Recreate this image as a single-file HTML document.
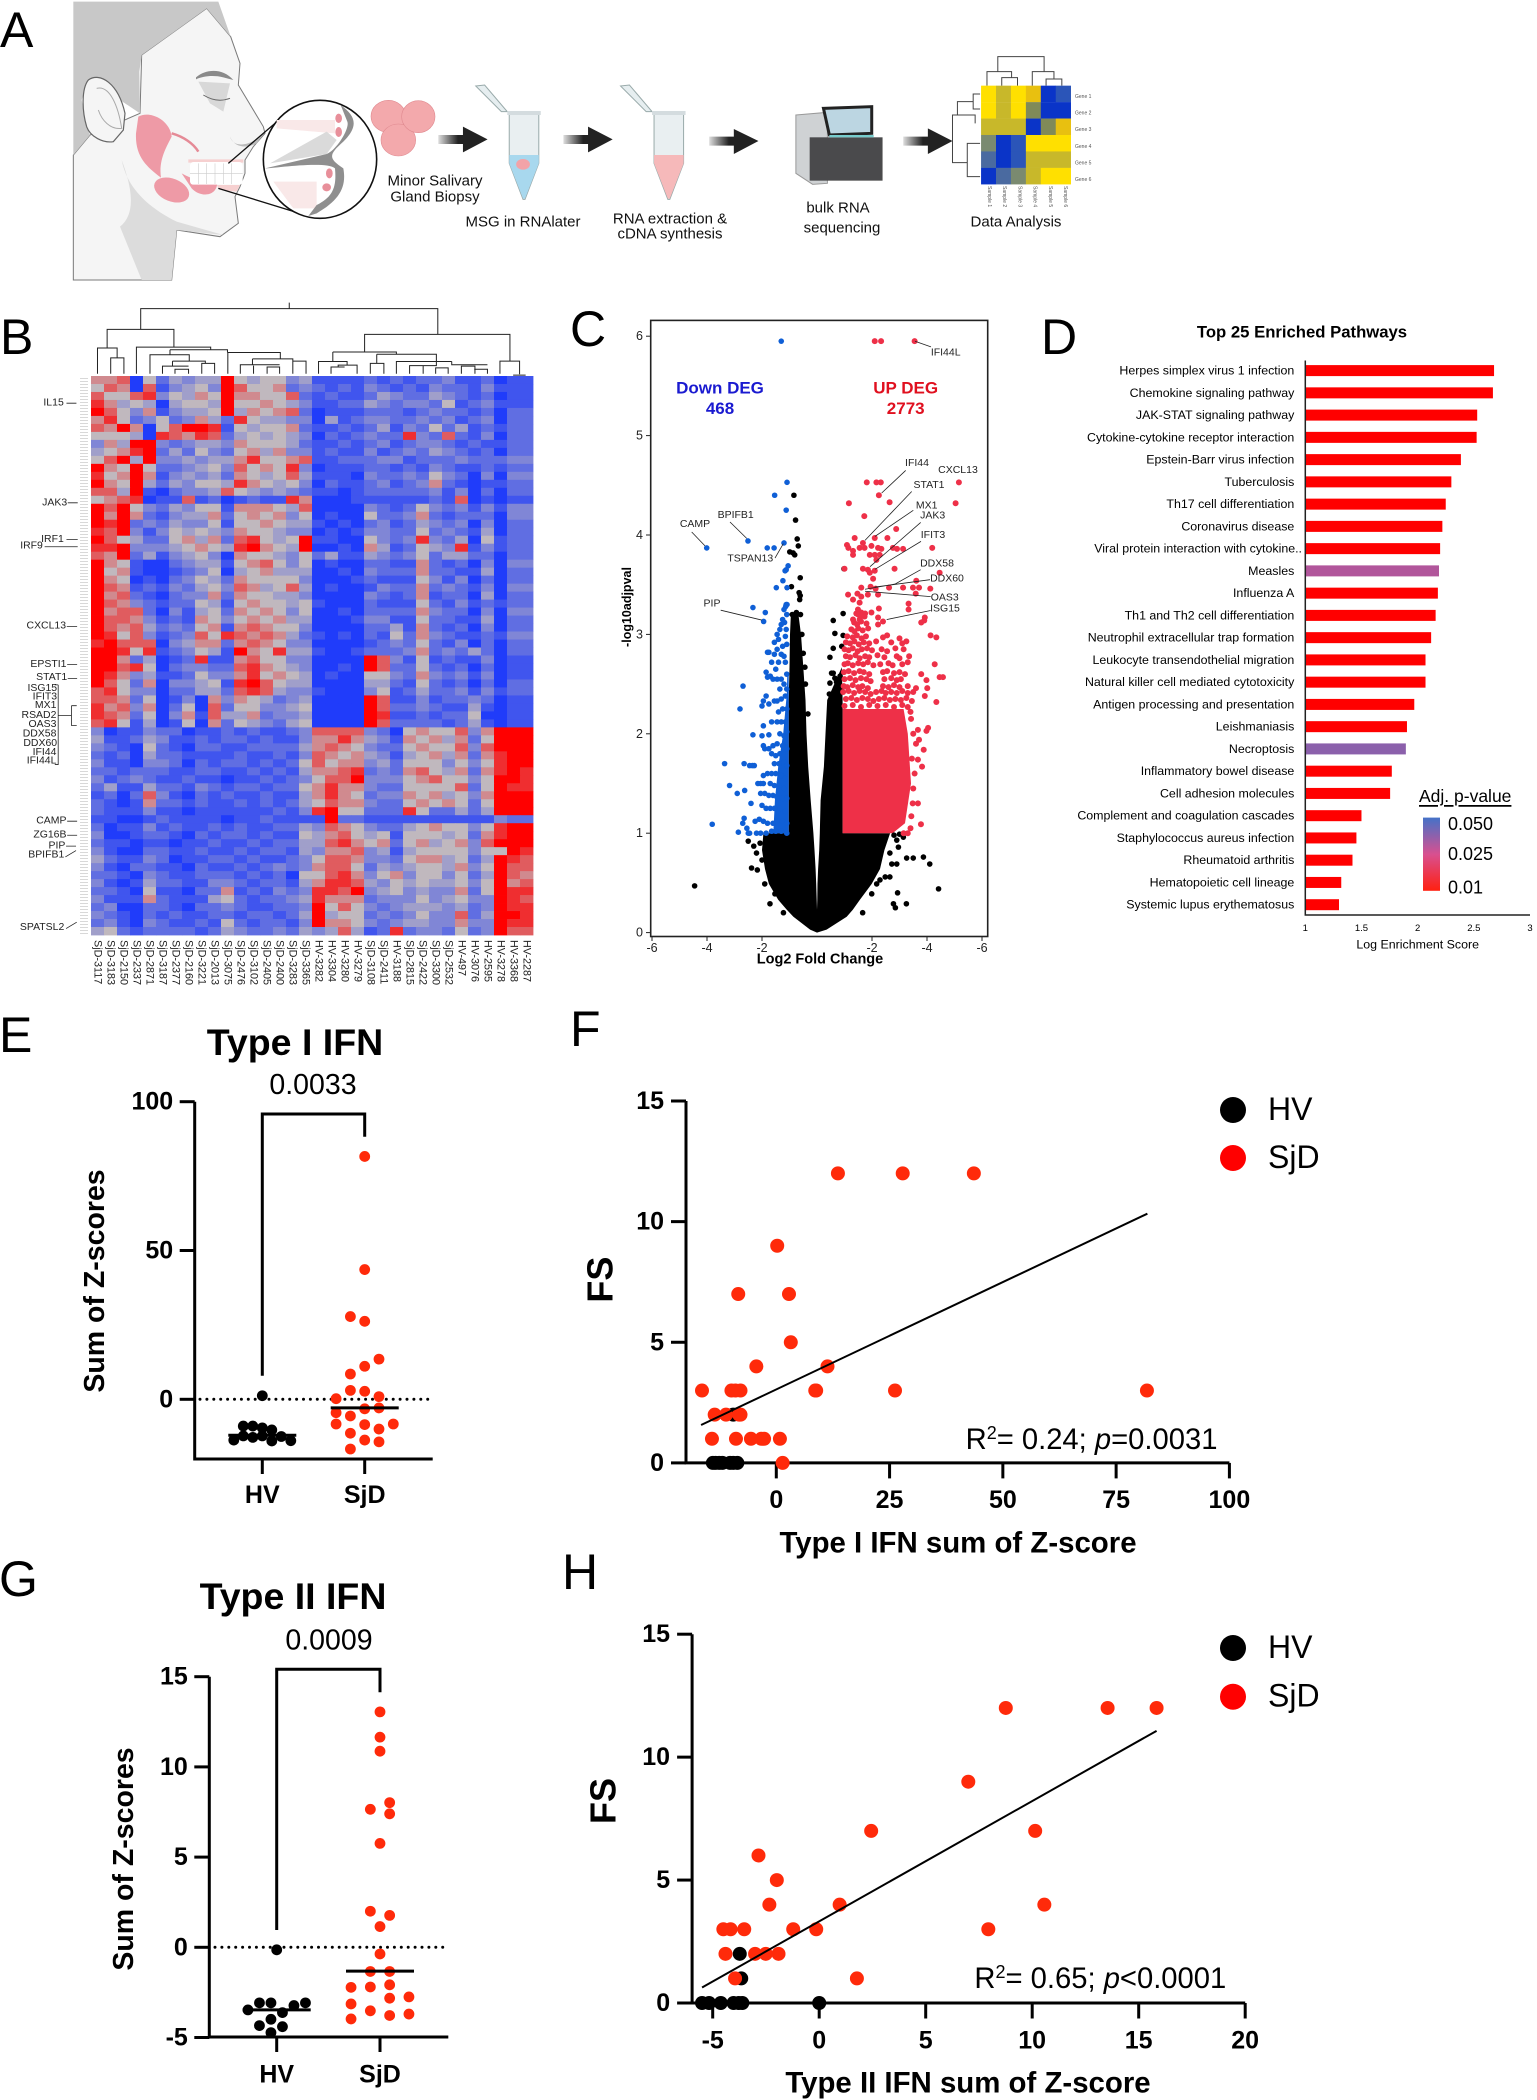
<!DOCTYPE html>
<html lang="en">
<head>
<meta charset="utf-8">
<title>Salivary gland RNA sequencing figure</title>
<style>
html,body{margin:0;padding:0;background:#fff}
svg{display:block}
text{font-family:"Liberation Sans",Arial,sans-serif;fill:#000}
.pl{font-size:50px}
.gene{font-size:10.5px;text-anchor:end;dominant-baseline:central;fill:#222}
.vl{font-size:10.5px;text-anchor:middle;dominant-baseline:central;fill:#222}
.al{font-size:15px;text-anchor:middle;dominant-baseline:central;fill:#111}
.ll{stroke:#222;stroke-width:.8;fill:none}
.ns{vector-effect:non-scaling-stroke}
</style>
</head>
<body>
<svg id="fig" xmlns="http://www.w3.org/2000/svg" width="1537" height="2100" viewBox="0 0 1537 2100">
<defs>
<pattern id="tinyRows" width="10" height="3" patternUnits="userSpaceOnUse"><rect width="8" height="1" fill="#d8d8d8"/></pattern>
<linearGradient id="pGrad" x1="0" y1="1" x2="0" y2="0">
<stop offset="0" stop-color="#ff2010"/><stop offset=".5" stop-color="#d85090"/><stop offset="1" stop-color="#4472c8"/>
</linearGradient>
<linearGradient id="arrowFade" x1="0" y1="0" x2="1" y2="0">
<stop offset="0" stop-color="#222" stop-opacity=".15"/><stop offset=".4" stop-color="#222"/><stop offset="1" stop-color="#222"/>
</linearGradient>
</defs>
<rect width="1537" height="2100" fill="#fff"/>
<g>
<text class="pl" x="0" y="47">A</text>
<text class="pl" x="0" y="354">B</text>
<text class="pl" x="570" y="346">C</text>
<text class="pl" x="1041" y="354">D</text>
<text class="pl" x="-1" y="1052">E</text>
<text class="pl" x="570" y="1046">F</text>
<text class="pl" x="-1" y="1596">G</text>
<text class="pl" x="562" y="1589">H</text>
</g>

<g id="panelA">
<g transform="translate(60,0) scale(0.33333)">
<path d="M440 25 512 110 540 190 535 255 610 380 615 400 580 440 555 480 555 520 540 560 525 590 535 670 480 710 350 690 335 840H40V465L90 405 240 340 245 165Z" fill="#f5f5f5" stroke="#7a7a7a" stroke-width="1" class="ns"/>
<path d="M185 480C200 560 260 620 350 665L490 705 350 690 335 840H245L180 680C230 640 215 560 185 480Z" fill="#dcdcdc"/>
<path d="M40 5H475L512 110 440 25 350 90 245 165 238 215 240 340 180 300 130 235 85 240 65 300 80 380 90 405 40 465Z" fill="#c8c8c8"/>
<path d="M85 240C120 215 175 250 195 340L190 390 160 425C130 430 90 410 80 380 65 330 65 265 85 240Z" fill="#f5f5f5" stroke="#666" stroke-width="1.2" class="ns"/>
<path d="M110 265C150 255 175 320 185 385 150 390 125 360 115 330" fill="none" stroke="#aaa" stroke-width="1" class="ns"/>
<path d="M408 232C440 205 490 205 520 240L490 232C460 225 430 228 408 238Z" fill="#8a8a8a"/>
<path d="M415 245 510 250 490 335 450 310Z" fill="#d8d8d8"/>
<path d="M430 285Q470 310 510 295" fill="none" stroke="#666" stroke-width="1" class="ns"/>
<path d="M510 410C520 445 570 440 612 400L590 430C560 445 525 445 510 410Z" fill="#bbb"/>
<path d="M235 350C270 330 330 360 335 410 320 440 295 480 303 533 260 500 225 470 228 400Z" fill="#ee9aa6"/>
<path d="M335 400C370 410 400 430 415 455" stroke="#e58a96" stroke-width="2.5" fill="none" class="ns"/>
<ellipse cx="335" cy="570" rx="55" ry="34" transform="rotate(22 335 570)" fill="#ee9aa6"/>
<path d="M365 520C400 540 440 550 472 548 470 592 420 592 395 565Z" fill="#ee9aa6"/>
<path d="M385 478H550V488H385ZM470 555H540L530 575 480 570Z" fill="#f6d0d0"/>
<rect x="390" y="486" width="158" height="68" rx="10" fill="#fff"/>
<path d="M390 520H548M415 490V552M440 490V552M465 490V552M490 490V552M515 490V552" stroke="#ccc" stroke-width=".6" fill="none" class="ns"/>
<path d="M505 490 645 370M475 565 745 648" stroke="#111" stroke-width="1.3" fill="none" class="ns"/>
<ellipse cx="780" cy="478" rx="170" ry="177" fill="#fff" stroke="#111" stroke-width="1.6" class="ns"/>
<path d="M650 360H825V400L650 385ZM640 545H770V625H700Z" fill="#f9e8e8"/>
<path d="M630 490 800 395 830 420 800 462Z" fill="#dadada"/>
<path d="M842 315C890 350 895 380 850 425 805 465 805 475 850 505 860 560 840 600 770 640L745 648 770 615C820 590 830 560 825 505 800 480 615 508 615 505L800 462C830 450 870 385 862 365Z" fill="#8f8f8f"/>
<ellipse cx="836" cy="355" rx="10" ry="14" fill="#e88f9a"/>
<ellipse cx="836" cy="396" rx="10" ry="15" fill="#e88f9a"/>
<ellipse cx="808" cy="520" rx="10" ry="15" fill="#e88f9a"/>
<ellipse cx="800" cy="562" rx="13" ry="12" fill="#e88f9a"/>
<ellipse cx="985" cy="349" rx="52" ry="48" fill="#f3a9ac" stroke="#e08a90" stroke-width=".6" class="ns"/>
<ellipse cx="1015" cy="420" rx="52" ry="48" fill="#f3a9ac" stroke="#e08a90" stroke-width=".6" class="ns"/>
<ellipse cx="1075" cy="350" rx="50" ry="48" fill="#f3a9ac" stroke="#e08a90" stroke-width=".6" class="ns"/>
</g>
<g transform="scale(0.985,0.3333)">
<g id="tubes"></g>
<path d="M445 405H470V380L495 418 470 457V432H445Z" fill="url(#arrowFade)"/>
<path d="M572 405H597V380L622 418 597 457V432H572Z" fill="url(#arrowFade)"/>
<path d="M720 410H745V387L770 423 745 462V437H720Z" fill="url(#arrowFade)"/>
<path d="M917 410H942V385L967 423 942 462V437H917Z" fill="url(#arrowFade)"/>
<path d="M808 345 840 337V550L825 553 808 520Z" fill="#cfd2d4" stroke="#999" class="ns"/>
<rect x="822" y="412" width="74" height="130" fill="#4a4a4c"/>
<path d="M836 325 885 320V400L842 405Z" fill="#bcd6e2" stroke="#222" stroke-width="3" class="ns"/>
<rect x="842" y="405" width="45" height="7" fill="#7cc"/>
<g id="miniHeat"></g>
<path class="ns" fill="none" stroke="#444" stroke-width="1" d="M1013 215V170H1060V215M1002 257V215H1027V233M1017 257V233H1033V257M1048 257V215H1070V237M1062 257V237H1078V257M995 282H988V305H972V345H967V488H982M995 327H988V305M967 345H990V370M982 488V430H995M982 488V530H995"/>
</g>
<text class="al" x="435" y="181">Minor Salivary</text>
<text class="al" x="435" y="197">Gland Biopsy</text>
<text class="al" x="523" y="222">MSG in RNAlater</text>
<text class="al" x="670" y="219">RNA extraction &amp;</text>
<text class="al" x="670" y="234">cDNA synthesis</text>
<text class="al" x="838" y="208">bulk RNA</text>
<text class="al" x="842" y="228">sequencing</text>
<text class="al" x="1016" y="222">Data Analysis</text>
<g id="miniLabels" font-size="5" fill="#444"></g>
</g>

<g id="panelB">
<g transform="translate(0,290) scale(0.3571,0.4529)">
<path class="ns" fill="none" stroke="#222" stroke-width="1" d="M810 28V41M300 128V87H487V126M394 87V41H1226V98M273 185V128H328V150M310 185V150H347V185M382 185V126H590V132M476 132H637V138M476 132V143M420 185V143H530V157M483 157H575V162M455 185V168H528M483 157V168M490 185V175H528V185M565 185V162H601V185M638 185V138H785V152M707 152H820V157M707 152V165M673 185V165H783M710 185V167M748 185V170H783V185M820 185V157H857V185M1021 135V98H1428V157M1400 185V157H1455V186M1437 188H1472M932 137H1110V142M1021 135V137M932 137V158M892 185V158H972V166M927 185V170H965M947 170V166H1000V185M1055 142H1222V158M1055 142V162M1037 185V162H1075V185M1110 185V158H1265M1147 185V167H1222V158M1185 185V167M1220 185V172H1255V185M1265 158V165H1365M1292 185V168H1330V185M1328 175H1365V185"/>
</g>
<rect x="78" y="376" width="10" height="559" fill="url(#tinyRows)"/>
<g id="heatmap"></g>
<g id="heatCols"></g>
<g transform="translate(0,290) scale(.9964) translate(0,-290)">
<text class="gene" x="64" y="403.6">IL15</text>
<text class="gene" x="67.4" y="503.6">JAK3</text>
<text class="gene" x="64" y="540.4">IRF1</text>
<text class="gene" x="43" y="546.8">IRF9</text>
<text class="gene" x="66.3" y="627.2">CXCL13</text>
<text class="gene" x="66.7" y="665.9">EPSTI1</text>
<text class="gene" x="67.4" y="679">STAT1</text>
<text class="gene" x="57.3" y="690">ISG15</text>
<text class="gene" x="57.3" y="698.6">IFIT3</text>
<text class="gene" x="56.6" y="707.2">MX1</text>
<text class="gene" x="56.6" y="717.2">RSAD2</text>
<text class="gene" x="56.6" y="725.9">OAS3</text>
<text class="gene" x="56.6" y="735.4">DDX58</text>
<text class="gene" x="57.3" y="745.4">DDX60</text>
<text class="gene" x="56.6" y="754">IFI44</text>
<text class="gene" x="56.6" y="762.7">IFI44L</text>
<text class="gene" x="66.7" y="823.1">CAMP</text>
<text class="gene" x="66.7" y="837.2">ZG16B</text>
<text class="gene" x="65.6" y="848.1">PIP</text>
<text class="gene" x="64.5" y="857.2">BPIFB1</text>
<text class="gene" x="64.5" y="930">SPATSL2</text>
<path class="ll" d="M66.7 403.6H76.7M68 503.6H78M66.7 540.4H78M44.8 547.7H78M67 627.6H77.4M67.4 666H77.4M68 680H77.4M58.4 686.3V766.3H55M58.4 686.3H55M58.4 717.2H71.7M71.7 707.2V727.2M71.7 707.2H77M71.7 727.2H77M67.4 823.1H77.4M67.4 837.2H77.4M66.3 848.1H76.3M65.6 859 76.3 852.6M66.3 930.9 77 924.5"/>
</g>
</g>

<g id="panelC">
<rect x="650.7" y="320.4" width="337" height="616.1" fill="#fff" stroke="#222" stroke-width="1.6"/>
<g id="volcano"></g>
<text x="720" y="388" font-size="17" font-weight="bold" text-anchor="middle" dominant-baseline="central" style="fill:#1a1ad0">Down DEG</text>
<text x="720" y="408.3" font-size="17" font-weight="bold" text-anchor="middle" dominant-baseline="central" style="fill:#1a1ad0">468</text>
<text x="905.7" y="388" font-size="17" font-weight="bold" text-anchor="middle" dominant-baseline="central" style="fill:#e0101f">UP DEG</text>
<text x="905.7" y="408.3" font-size="17" font-weight="bold" text-anchor="middle" dominant-baseline="central" style="fill:#e0101f">2773</text>
<g transform="translate(0,300) scale(1,.9974) translate(0,-300)">
<path class="ll" d="M915 341.3 931 347M691.7 532.6 705 546.5M730 522.6 746.7 539M775 558.7 783.3 544.3M720.7 611 761.7 620.9M905.7 470.9 881.7 493.5M911.7 492 865 541M913.3 510.9 875 537M920.7 523 870 567.4M921 542 875 570M920.7 570.4 895 584.8 865 590M930 580.4 875 587.8M930.7 597.4 865 592M930.7 611.3 886.7 620.4"/>
<g>
<text class="vl" x="945.7" y="353">IFI44L</text>
<text class="vl" x="695" y="525">CAMP</text>
<text class="vl" x="735.7" y="516">BPIFB1</text>
<text class="vl" x="750.3" y="559.6">TSPAN13</text>
<text class="vl" x="712" y="605">PIP</text>
<text class="vl" x="917" y="464">IFI44</text>
<text class="vl" x="958" y="470.9">CXCL13</text>
<text class="vl" x="929" y="486">STAT1</text>
<text class="vl" x="926.7" y="506.5">MX1</text>
<text class="vl" x="932.7" y="516.5">JAK3</text>
<text class="vl" x="933" y="536">IFIT3</text>
<text class="vl" x="937" y="564.8">DDX58</text>
<text class="vl" x="947" y="579.6">DDX60</text>
<text class="vl" x="944.7" y="599">OAS3</text>
<text class="vl" x="945" y="610">ISG15</text>
</g>
</g>
<text x="820" y="959.6" font-size="14.5" font-weight="bold" text-anchor="middle" dominant-baseline="central">Log2 Fold Change</text>
<text transform="translate(627,607) rotate(-90)" font-size="12.5" font-weight="bold" text-anchor="middle" dominant-baseline="central">-log10adjpval</text>
</g>

<g id="panelD">
<text x="1302" y="332" font-size="16.7" font-weight="bold" text-anchor="middle" dominant-baseline="central">Top 25 Enriched Pathways</text>
<g id="pathways"></g>
<text x="1417.7" y="944.7" font-size="12.4" text-anchor="middle" dominant-baseline="central">Log Enrichment Score</text>
<text x="1419" y="796" font-size="17.5" text-decoration="underline" dominant-baseline="central">Adj. p-value</text>
<rect x="1423" y="817.6" width="17" height="73.2" fill="url(#pGrad)"/>
<text x="1448" y="824" font-size="18" dominant-baseline="central">0.050</text>
<text x="1448" y="853.8" font-size="18" dominant-baseline="central">0.025</text>
<text x="1448" y="887.4" font-size="18" dominant-baseline="central">0.01</text>
</g>

<g id="panelE">
<text x="295" y="1042" font-size="37.5" font-weight="bold" text-anchor="middle" dominant-baseline="central">Type I IFN</text>
<text x="313" y="1085" font-size="28.5" text-anchor="middle" dominant-baseline="central">0.0033</text>
<path d="M262.3 1375.7V1114H364.7V1136.7" fill="none" stroke="#000" stroke-width="3"/>
<text transform="translate(95,1281) rotate(-90)" font-size="28.5" font-weight="bold" text-anchor="middle" dominant-baseline="central">Sum of Z-scores</text>
</g>

<g id="panelF">
<text x="958" y="1543" font-size="29.4" font-weight="bold" text-anchor="middle" dominant-baseline="central">Type I IFN sum of Z-score</text>
<text transform="translate(600,1279.6) rotate(-90)" font-size="36" font-weight="bold" text-anchor="middle" dominant-baseline="central">FS</text>
<text x="965.6" y="1449" font-size="29.2">R<tspan font-size="18" dy="-10">2</tspan><tspan dy="10">= 0.24; </tspan><tspan font-style="italic">p</tspan>=0.0031</text>
</g>

<g id="panelG">
<text x="293" y="1595.8" font-size="37.5" font-weight="bold" text-anchor="middle" dominant-baseline="central">Type II IFN</text>
<text x="329" y="1640.6" font-size="28.5" text-anchor="middle" dominant-baseline="central">0.0009</text>
<path d="M276.7 1930V1669.3H380V1692.3" fill="none" stroke="#000" stroke-width="3"/>
<text transform="translate(124,1859) rotate(-90)" font-size="28.5" font-weight="bold" text-anchor="middle" dominant-baseline="central">Sum of Z-scores</text>
</g>

<g id="panelH">
<text x="968" y="2083" font-size="29.4" font-weight="bold" text-anchor="middle" dominant-baseline="central">Type II IFN sum of Z-score</text>
<text transform="translate(603,1801) rotate(-90)" font-size="36" font-weight="bold" text-anchor="middle" dominant-baseline="central">FS</text>
<text x="974.4" y="1988" font-size="29.2">R<tspan font-size="18" dy="-10">2</tspan><tspan dy="10">= 0.65; </tspan><tspan font-style="italic">p</tspan>&lt;0.0001</text>
</g>
</svg>

<script>
/* ---------- heatmap data ---------- */
const heatmapColumns = ['SjD-3117','SjD-3183','SjD-2150','SjD-2337','SjD-2871','SjD-3187','SjD-2377','SjD-2160','SjD-3221','SjD-2013','SjD-3075','SjD-2476','SjD-3102','SjD-2405','SjD-2400','SjD-3283','SjD-3365','HV-3282','HV-3304','HV-3280','HV-3279','SjD-3108','SjD-2411','HV-3188','SjD-2815','SjD-2422','SjD-3300','SjD-2532','HV-497','HV-3076','HV-2595','HV-3278','HV-3368','HV-2287'];
const heatmapValues = [
[6,6,7,0,5,2,4,3,4,4,9,5,4,5,5,3,4,1,1,1,1,2,1,2,1,2,2,3,1,1,2,0,1,1],
[5,7,6,0,7,1,3,4,5,3,9,7,5,5,6,2,3,2,1,2,1,3,2,1,2,1,3,2,2,1,3,1,1,1],
[7,5,5,7,8,3,5,4,6,5,9,6,6,5,5,7,2,1,2,1,1,2,4,3,2,2,4,3,2,1,2,0,1,1],
[8,6,4,5,4,0,4,5,5,4,9,5,5,6,5,4,3,1,1,2,2,4,3,2,3,3,2,5,1,2,3,1,1,1],
[9,7,5,3,6,1,3,4,4,5,9,4,6,5,6,7,2,0,1,1,1,2,2,2,1,2,3,2,2,1,2,0,2,2],
[6,8,5,2,3,5,2,3,6,4,2,8,5,4,4,3,3,0,4,1,2,3,3,2,2,3,2,3,1,2,3,0,2,2],
[7,6,9,6,0,5,7,9,9,8,1,5,4,5,5,6,2,1,1,2,1,2,4,1,3,2,5,2,4,1,2,1,2,2],
[5,5,5,4,0,8,7,6,8,7,2,4,5,4,5,4,3,0,2,1,2,3,2,2,8,3,2,7,2,1,3,0,2,2],
[3,6,4,9,9,3,2,3,4,4,3,6,5,5,5,4,2,1,1,2,1,2,3,1,2,3,3,2,1,2,1,1,2,2],
[4,5,6,8,9,2,4,2,5,3,2,5,6,4,6,3,3,1,2,1,1,3,1,2,3,2,4,3,2,1,2,0,2,2],
[5,7,9,4,9,3,3,4,3,4,4,6,8,5,5,6,7,1,1,2,2,2,3,3,1,2,2,2,3,2,2,2,3,3],
[9,6,5,9,5,2,2,3,4,5,3,7,5,6,5,8,3,0,1,1,1,2,2,1,2,1,3,2,1,1,2,1,2,2],
[8,5,6,9,6,1,3,4,3,4,2,6,5,4,5,7,4,1,1,1,0,3,2,2,3,2,5,3,2,0,3,0,3,3],
[9,6,5,9,4,2,4,3,5,5,4,8,6,5,4,5,3,0,2,1,1,2,3,1,2,3,6,2,1,0,1,1,2,2],
[7,7,4,9,1,0,2,3,3,4,7,5,4,3,4,3,2,1,1,0,1,2,2,2,2,2,3,1,3,0,2,0,2,2],
[5,6,7,8,0,1,1,7,1,2,0,1,2,1,1,8,6,0,0,0,1,1,1,1,1,1,2,1,7,0,1,0,1,1],
[9,7,9,5,3,2,4,3,5,5,1,6,6,6,5,4,7,0,0,0,0,3,2,1,2,5,3,2,3,1,3,1,3,3],
[9,6,9,6,2,1,3,4,4,6,2,5,6,5,6,3,5,0,1,0,0,5,2,2,3,6,2,1,2,2,2,0,3,3],
[9,8,9,2,3,2,4,3,3,5,1,5,5,6,5,4,4,1,0,1,0,2,3,1,2,4,3,2,3,0,3,0,2,2],
[8,7,9,3,1,3,5,4,5,4,3,6,5,5,4,3,3,0,1,0,1,3,3,2,2,5,2,3,2,1,4,0,2,2],
[9,7,5,4,2,2,5,6,4,6,2,7,8,5,4,5,9,1,1,0,0,5,3,2,3,8,3,2,4,0,5,1,2,2],
[8,8,9,3,3,3,4,5,6,5,4,8,9,6,5,4,9,0,0,1,0,6,4,1,2,5,4,3,8,1,3,1,2,2],
[7,6,9,2,4,1,3,4,5,3,0,6,5,5,4,3,5,2,4,1,1,4,3,2,3,5,2,4,4,2,2,0,2,2],
[9,6,5,1,0,0,2,3,4,4,1,5,6,7,5,3,5,0,1,0,0,2,2,1,1,6,2,1,2,0,3,0,3,3],
[9,5,6,1,0,0,1,2,3,5,0,4,5,6,4,4,4,0,0,1,0,3,2,2,2,6,2,2,1,1,4,0,2,2],
[9,6,5,0,1,0,2,3,5,4,2,6,5,5,5,5,3,0,0,0,1,2,1,1,1,5,3,1,3,0,2,0,2,2],
[9,7,6,1,2,1,3,2,4,5,3,7,6,4,5,7,4,0,1,0,0,1,3,2,2,6,2,3,2,1,3,0,3,3],
[9,6,7,2,1,0,2,3,3,6,2,6,5,5,4,4,3,0,0,0,0,3,2,1,2,6,1,2,2,0,4,0,2,2],
[9,7,6,3,2,1,2,2,5,4,1,5,6,5,5,4,5,1,0,0,0,2,1,1,1,5,2,1,3,1,2,1,2,2],
[9,6,7,7,2,0,3,1,4,5,2,6,5,6,5,3,5,0,0,1,0,2,2,2,2,6,3,2,2,0,3,0,3,3],
[9,7,7,6,3,1,2,1,6,5,3,5,6,5,6,4,4,0,0,0,1,3,3,1,1,5,2,2,1,1,4,0,2,2],
[9,7,6,7,4,2,3,2,5,6,1,6,7,6,5,5,3,0,0,0,0,2,2,4,1,6,2,1,2,0,3,0,2,2],
[9,8,5,7,3,1,2,3,7,5,8,7,6,7,6,4,2,1,0,1,0,2,1,5,2,6,3,2,1,1,2,1,3,3],
[8,9,7,7,7,0,3,4,6,6,2,6,7,6,5,3,3,0,0,0,0,1,2,3,2,5,2,1,3,0,2,0,2,2],
[9,9,8,5,8,1,2,3,5,4,1,9,6,5,8,4,4,1,0,0,1,2,2,2,3,6,2,3,2,4,2,0,2,2],
[9,9,6,2,4,0,1,2,8,1,1,6,7,5,5,3,3,0,0,0,0,9,7,3,1,5,1,2,1,1,3,0,1,1],
[9,9,7,8,5,0,2,3,3,2,2,7,8,6,5,4,3,0,0,1,0,9,7,2,2,5,2,1,2,0,2,0,1,1],
[9,8,6,3,4,1,1,2,5,3,3,6,8,5,6,5,4,0,1,0,0,5,5,3,2,6,3,2,3,1,3,0,1,1],
[9,7,5,2,6,0,3,3,4,5,1,8,9,7,5,4,4,0,0,0,0,4,4,2,1,5,2,1,2,0,2,0,2,2],
[7,8,5,3,3,0,2,2,4,4,2,7,8,7,4,3,3,1,0,0,0,3,5,1,2,4,2,2,3,1,3,1,2,2],
[7,7,6,2,5,0,1,3,0,6,3,6,5,4,2,3,4,0,0,0,0,9,7,1,1,3,1,2,2,3,2,0,1,1],
[8,6,7,3,6,0,2,5,0,7,2,5,5,3,3,4,5,0,0,0,0,9,7,2,2,3,2,1,1,4,1,0,1,1],
[8,7,6,2,5,0,3,6,1,7,4,4,6,2,3,3,4,0,0,0,0,9,8,1,1,2,1,2,2,5,0,0,1,1],
[7,8,5,1,4,0,1,5,0,6,2,5,4,3,2,4,5,0,0,0,0,9,7,2,2,2,2,1,2,4,1,0,1,1],
[3,0,1,1,3,2,2,0,1,1,2,1,2,1,1,2,3,7,7,7,7,3,2,0,5,6,5,5,7,3,6,9,9,9],
[4,1,1,2,4,3,1,1,2,1,2,2,1,2,1,1,3,6,6,8,6,4,3,1,6,5,6,4,6,2,5,9,9,9],
[3,2,1,0,5,2,1,0,2,2,1,1,2,2,2,2,4,6,7,6,5,3,2,2,5,6,5,5,7,3,7,9,9,9],
[2,1,2,0,4,2,2,1,1,1,1,2,1,1,2,1,3,7,6,5,6,4,3,1,4,5,6,4,6,2,6,8,9,9],
[3,1,1,0,3,3,2,0,2,1,2,2,1,2,1,2,5,7,5,6,6,3,4,2,5,5,5,3,5,3,5,8,9,9],
[2,2,1,2,2,2,1,1,2,2,1,1,2,1,2,1,4,6,6,7,8,2,3,2,6,7,5,4,6,2,6,8,9,8],
[3,1,2,3,2,1,1,2,1,1,0,1,1,2,1,2,3,5,7,7,9,3,3,3,5,6,7,5,5,3,5,9,9,8],
[2,4,1,1,4,2,2,1,3,2,1,2,2,1,2,2,5,6,8,6,6,3,2,2,5,5,5,5,7,2,5,9,8,8],
[1,2,0,2,7,3,1,0,2,1,2,1,1,2,1,1,4,6,8,6,5,2,3,3,6,5,6,4,5,3,6,9,9,9],
[2,1,0,1,6,2,2,1,2,1,1,2,1,2,1,2,4,5,7,6,6,3,2,2,5,6,5,6,5,2,5,9,9,9],
[2,1,1,1,3,1,1,0,1,1,1,1,1,1,2,1,3,8,9,5,5,2,2,2,8,5,2,2,4,2,4,9,9,9],
[1,1,0,0,1,2,1,1,1,1,0,1,1,2,1,1,1,1,9,2,2,1,1,1,1,1,1,1,1,1,1,3,2,2],
[2,0,1,1,3,1,2,1,1,2,1,2,1,1,2,2,4,3,7,6,5,3,2,2,4,5,6,5,5,3,5,8,9,9],
[3,0,0,1,2,2,1,0,2,1,2,2,1,2,1,1,5,4,6,7,5,4,5,1,5,5,5,4,5,2,6,8,9,9],
[2,1,1,0,1,1,0,1,1,2,1,1,2,1,2,2,4,4,7,8,6,5,6,2,5,6,4,5,6,3,7,9,9,9],
[3,1,0,0,2,2,1,1,2,1,1,2,1,2,2,1,4,3,6,6,7,3,4,1,4,5,5,5,5,3,5,5,9,8],
[4,2,1,1,3,2,0,1,1,2,2,1,2,1,1,2,3,5,7,7,6,3,3,2,5,6,6,4,5,2,4,9,8,7],
[3,1,0,2,2,1,1,0,2,1,1,2,1,2,3,2,3,6,7,7,5,2,4,3,4,5,5,4,6,3,5,9,7,7],
[2,2,1,0,3,2,1,1,2,2,2,1,2,1,2,0,5,5,7,8,6,3,5,6,3,5,5,3,5,2,4,9,7,6],
[3,1,0,1,4,2,2,1,1,3,3,2,1,2,2,1,4,6,8,8,7,4,3,5,4,5,4,4,5,3,5,9,6,7],
[2,2,1,0,5,1,1,0,2,2,6,1,2,1,3,2,3,8,8,7,9,3,4,5,3,4,3,3,6,2,5,9,8,8],
[3,1,1,1,6,2,1,1,1,4,5,2,1,2,2,3,4,8,6,6,6,2,3,3,3,5,3,4,5,3,3,9,8,7],
[2,3,0,0,2,2,1,0,2,2,3,2,1,1,2,2,3,9,5,7,5,3,2,3,4,4,4,3,4,2,3,9,8,8],
[3,2,1,0,2,1,2,1,1,2,2,1,2,2,1,2,4,9,4,5,5,2,3,2,3,5,3,3,7,2,4,9,9,8],
[2,3,1,0,3,2,1,1,2,1,5,2,1,2,2,1,3,9,6,6,5,3,2,3,4,4,3,3,6,3,3,9,8,8],
[4,5,2,1,2,2,2,2,1,2,4,3,2,2,3,2,4,3,4,7,4,1,2,8,2,3,3,2,5,2,3,9,7,7]
];

/* ---------- volcano data: [log2FC, -log10 adj p] ---------- */
const volcanoXTicks = [-6,-4,-2,2,4,6];
const volcanoXTickLabels = ['-6','-4','-2','-2','-4','-6'];
const volcanoYTicks = [0,1,2,3,4,5,6];
const denseLevels = [0,0.03,0.16,0.23,0.33,0.49,0.64,0.83,1,1.001,1.33,1.67,2,2.34,2.67,3,3.21];
const blackLeftOuter = [0,-0.25,-0.86,-1.1,-1.41,-1.75,-1.89,-2,-1.95,-1.03,-1.03,-1.03,-1.03,-1.03,-1,-0.98,-0.95];
const blackLeftInner = [0,0,0,0,-0.01,-0.03,-0.05,-0.09,-0.13,-0.13,-0.23,-0.32,-0.38,-0.42,-0.5,-0.58,-0.68];
const blackRightInner = [0,0,0,0,0.01,0.02,0.04,0.08,0.1,0.1,0.13,0.25,0.31,0.37,0.9,0.9,0.9];
const blackRightOuter = [0,0.35,1.08,1.3,1.56,1.99,2.29,2.45,2.66,0.93,0.93,0.93,0.93,0.93,0.9,0.9,0.9];
const redDenseLevels = [1,1.1,1.5,2,2.25];
const redDenseLeft = [0.93,0.93,0.93,0.93,0.93];
const redDenseRight = [2.75,3.2,3.42,3.3,3.15];
const blueDenseLevels = [1,1.33,1.67,2,2.4,2.6];
const blueDenseLeft = [-1.59,-1.53,-1.41,-1.23,-1.1,-1.08];
const blueDenseRight = [-1.03,-1.03,-1.03,-1.03,-1.03,-1.03];
const blackPoints = [[-0.84,4.4],[-0.78,4.15],[-0.72,3.96],[-0.68,3.89],[-0.99,3.83],[-0.87,3.82],[-0.81,3.8],[-0.61,3.57],[-0.93,3.48],[-0.65,3.42],[-0.61,3.39],[-0.63,3.35],[0.98,3.66],[0.95,3.21],[0.59,3.14],[0.65,3.01],[0.95,2.99],[0.59,2.86],[0.9,2.88],[0.47,2.77],[0.59,2.61],[0.71,2.52],[0.9,2.44],[0.54,2.39],[0.59,2.24],[0.65,2.56],[0.53,2.61],[0.47,2.51],[0.84,2.58],[0.45,2.4],[0.7,2.35],
[-0.5,2.81],[-0.44,2.67],[-0.55,3.0],[-0.6,3.2],[-0.75,3.22],[-0.9,3.2],[-0.42,2.5],[-0.33,2.2],
[-4.45,0.47],[4.42,0.44],[4.1,0.69],[3.87,0.76],[3.5,0.75],[3.26,0.75],[2.93,0.4],[2.78,0.29],[2.85,0.25],[3.25,0.29],[1.66,0.2],[-1.22,0.2],[-1.71,0.29],[-1.53,0.39],[-1.9,0.49],[-2.38,0.65],[-2.17,0.63],[-2.5,0.92],[-2.3,0.87],[-2.07,0.9],[-2.2,0.8],[-2,0.73],[2.9,0.93],[3.14,0.96],[2.96,0.86],[2.65,0.8],[2.9,0.69],[2.72,0.69],[2.48,0.56],[2.65,0.56],[2.29,0.53],[2.17,0.49],[1.99,0.39],[2.8,0.98],[3.0,0.99]];
const downPoints = [[-1.3,5.95],[-1.09,4.53],[-1.54,4.4],[-1.12,4.25],[-1.2,3.92],[-1.56,3.87],[-1.81,3.87],[-2.51,3.94],[-4.01,3.87],[-1.05,3.69],[-1.12,3.65],[-1.16,3.64],[-1.24,3.54],[-1.48,3.47],[-1.09,3.47],[-1.12,3.3],[-1.88,3.22],[-2.33,3.27],[-1.94,3.13],[-2.69,2.48],[-2.8,2.25],
[-1.09,3.3],[-1.14,3.28],[-1.2,3.25],[-1.1,3.2],[-1.25,3.15],[-1.18,3.12],[-1.3,3.1],[-1.12,3.05],[-1.35,3.05],[-1.45,3.0],[-1.4,2.95],[-1.15,2.98],[-1.55,2.92],[-1.25,2.88],[-1.45,2.85],[-1.1,2.9],[-1.3,2.8],[-1.75,2.82],[-1.8,2.82],[-1.55,2.8],[-1.2,2.78],[-1.65,2.72],[-1.4,2.72],[-1.15,2.72],[-1.5,2.65],[-1.85,2.62],[-1.8,2.57],[-1.7,2.58],[-1.6,2.55],[-1.45,2.55],[-1.3,2.55],[-1.1,2.6],[-1.2,2.5],[-1.35,2.45],[-1.1,2.45],[-1.95,2.33],[-2,2.28],[-1.85,2.38],[-1.75,2.3],[-1.55,2.33],[-1.45,2.33],[-1.3,2.35],[-1.15,2.38],[-1.4,2.22],[-1.25,2.25],[-1.1,2.25],[-1.95,2.08],[-1.65,2.12],[-1.45,2.12],[-1.3,2.12],[-1.15,2.12],[-1.35,2.0],[-1.1,2.02],[-1.2,1.98],[-2.33,1.99],[-2.0,1.98],[-1.75,1.99],[-1.95,1.88],[-1.9,1.85],[-1.75,1.85],[-1.6,1.88],[-1.45,1.9],[-1.25,1.88],[-1.1,1.85],[-1.65,1.8],[-1.5,1.78],[-1.35,1.8],[-1.55,1.7],[-1.38,1.7],[-1.2,1.72],[-1.1,1.68],[-2.65,1.7],[-2.45,1.68],[-2.35,1.68],[-2.28,1.68],[-3.36,1.7],[-1.95,1.58],[-1.8,1.6],[-1.65,1.6],[-1.5,1.6],[-1.3,1.58],[-1.15,1.55],[-2.15,1.5],[-2.05,1.5],[-1.95,1.5],[-1.7,1.5],[-1.55,1.48],[-1.4,1.48],[-1.2,1.45],[-3.18,1.48],[-2.9,1.4],[-2.63,1.43],[-2.05,1.4],[-1.9,1.4],[-1.75,1.38],[-1.6,1.38],[-1.45,1.36],[-1.25,1.35],[-1.1,1.35],[-2.4,1.3],[-2.0,1.28],[-1.85,1.25],[-1.7,1.25],[-1.55,1.25],[-1.35,1.25],[-1.15,1.22],[-2.65,1.15],[-2.55,1.05],[-2.7,1.1],[-2.25,1.12],[-2.1,1.14],[-1.95,1.12],[-1.8,1.1],[-1.6,1.1],[-1.45,1.12],[-1.25,1.12],[-1.1,1.1],[-3.81,1.09],[-2.86,1.01],[-2.5,1.0],[-2.45,1.0],[-2.2,1.0],[-2.05,1.0],[-1.85,1.0],[-1.65,1.02],[-1.5,1.02],[-1.3,1.02],[-1.1,1.0]];
const upPoints = [[2.1,5.95],[2.33,5.95],[3.55,5.95],[1.81,4.53],[2.16,4.53],[2.32,4.53],[5.16,4.53],[2.25,4.4],[5.04,4.32],[1.16,4.32],[2.64,4.33],[1.72,4.19],[2.88,4.06],[1.37,3.97],[2.1,3.97],[2.56,3.97],[1.67,3.92],[1.09,3.9],[1.14,3.87],[1.31,3.84],[1.55,3.87],[1.73,3.87],[1.98,3.89],[2.22,3.87],[2.34,3.86],[2.76,3.87],[2.91,3.86],[3.13,3.86],[4.19,3.87],[1.31,3.8],[1.92,3.8],[2.1,3.8],[2.28,3.8],[2.16,3.75],[1.0,3.66],[1.67,3.66],[1.85,3.65],[2.1,3.64],[2.82,3.66],[1.92,3.62],[4.46,3.62],[2.04,3.56],[1.95,3.48],[1.61,3.47],[2.13,3.46],[2.62,3.47],[3.13,3.47],[3.49,3.47],[3.61,3.54],[3.71,3.47],[4.12,3.46],[3.59,3.41],[1.13,3.4],[1.47,3.41],[1.31,3.35],[1.61,3.38],[1.85,3.4],[2.22,3.4],[1.55,3.32],[3.33,3.31],[3.33,3.25],[1.49,3.25],[2.25,3.26],[1.61,3.22],[1.43,3.21],[1.98,3.22],[1.31,3.15],[1.55,3.15],[1.73,3.18],[2.22,3.17],[2.4,3.13],[2.22,3.1],[3.92,3.17],[3.79,3.12],[3.9,3.14],
[4.13,2.99],[4.34,2.97],[4.28,2.7],[4.46,2.57],[4.58,2.57],[3.79,2.6],[3.98,2.54],[4.01,2.46],[3.92,2.38],[4.34,2.32],[4.04,2.06],[3.98,2.03],[3.67,2.04],[3.71,1.94],[3.88,1.84],[3.67,1.74],[3.82,1.67],[3.67,1.3],[3.43,1.17],[3.78,1.09],[3.55,1.6],[3.6,1.9],[3.5,1.45],[3.48,1.3],[3.4,1.05],[3.3,1.0],[3.15,1.0],[3.45,1.75],[3.5,2.0],[3.42,2.15],
[1.5,3.2],[1.62,3.19],[1.75,3.21],[1.35,3.12],[1.46,3.1],[1.6,3.13],[1.8,3.11],[1.25,3.05],[1.36,3.03],[1.5,3.06],[1.66,3.04],[1.86,3.06],[1.1,2.98],[1.3,2.97],[1.45,2.99],[1.62,2.96],[1.78,2.98],[2.4,2.97],[2.55,2.99],[3.0,2.96],[1.05,2.92],[1.2,2.91],[1.36,2.93],[1.52,2.9],[1.7,2.92],[1.9,2.91],[2.15,2.93],[2.7,2.92],[3.1,2.91],[3.25,2.93],[1.0,2.85],[1.15,2.84],[1.3,2.86],[1.48,2.83],[1.63,2.85],[1.82,2.86],[2.0,2.84],[2.35,2.85],[2.55,2.83],[2.85,2.86],[3.15,2.85],[1.05,2.78],[1.2,2.77],[1.4,2.79],[1.55,2.76],[1.75,2.78],[1.9,2.77],[2.2,2.79],[2.45,2.77],[2.9,2.78],[3.0,2.76],[3.35,2.78],[1.0,2.7],[1.12,2.71],[1.3,2.69],[1.5,2.71],[1.68,2.7],[1.85,2.72],[2.05,2.69],[2.3,2.7],[2.6,2.71],[2.75,2.69],[3.1,2.7],[3.3,2.72],[0.98,2.62],[1.15,2.63],[1.35,2.61],[1.55,2.63],[1.7,2.62],[1.9,2.6],[2.4,2.62],[2.55,2.63],[2.8,2.61],[3.0,2.62],[3.2,2.6],[1.0,2.55],[1.2,2.56],[1.4,2.54],[1.6,2.56],[1.8,2.55],[1.95,2.53],[2.45,2.55],[2.7,2.56],[2.9,2.54],[3.05,2.55],[0.97,2.48],[1.1,2.47],[1.3,2.49],[1.5,2.47],[1.65,2.48],[1.85,2.46],[2.4,2.48],[2.6,2.47],[2.8,2.49],[3.0,2.47],[3.3,2.48],[3.6,2.46],
[0.95,2.42],[1.15,2.43],[1.35,2.41],[1.55,2.43],[1.75,2.42],[1.95,2.4],[2.15,2.42],[2.35,2.43],[2.5,2.41],[2.7,2.42],[2.9,2.41],[3.1,2.43],[3.3,2.41],[3.5,2.42],[1.05,2.35],[1.25,2.36],[1.45,2.34],[1.65,2.36],[1.85,2.35],[2.05,2.33],[2.25,2.35],[2.45,2.36],[2.65,2.34],[2.85,2.35],[3.05,2.34],[3.25,2.36],[3.45,2.33],[1.0,2.28],[1.3,2.29],[1.6,2.27],[1.9,2.29],[2.2,2.28],[2.5,2.29],[2.8,2.27],[3.1,2.29],[3.3,2.27],[3.4,2.22]];

/* ---------- pathway data ---------- */
const pathwayNames = ['Herpes simplex virus 1 infection','Chemokine signaling pathway','JAK-STAT signaling pathway','Cytokine-cytokine receptor interaction','Epstein-Barr virus infection','Tuberculosis','Th17 cell differentiation','Coronavirus disease','Viral protein interaction with cytokine..','Measles','Influenza A','Th1 and Th2 cell differentiation','Neutrophil extracellular trap formation','Leukocyte transendothelial migration','Natural killer cell mediated cytotoxicity','Antigen processing and presentation','Leishmaniasis','Necroptosis','Inflammatory bowel disease','Cell adhesion molecules','Complement and coagulation cascades','Staphylococcus aureus infection','Rheumatoid arthritis','Hematopoietic cell lineage','Systemic lupus erythematosus'];
const pathwayScores = [2.68,2.67,2.53,2.525,2.385,2.30,2.25,2.22,2.20,2.19,2.18,2.16,2.12,2.07,2.07,1.97,1.905,1.895,1.77,1.755,1.50,1.455,1.42,1.32,1.30];
const pathwayPValues = [0.01,0.01,0.01,0.01,0.01,0.01,0.01,0.01,0.01,0.03,0.01,0.01,0.01,0.01,0.01,0.01,0.01,0.037,0.01,0.01,0.01,0.01,0.01,0.01,0.01];
const pathwayTicks = [1,1.5,2,2.5,3];

/* ---------- dot plots ---------- */
const type1Categories = ['HV','SjD'];
const type1Ticks = [0,50,100];
const type1Hv = [1.2,-12.3,-14,-12.8,-12.5,-12.3,-13.9,-13.7,-9.6,-9,-10.3,-9];
const type1Sjd = [81.6,43.6,26.2,27.8,11.1,8.5,13.5,2.7,0.9,3,-3.2,0.2,-2.9,-5.6,-8.5,-4.5,-10,-11.4,-8.3,-8.3,-13.7,-14.3,-16.7];
const type1Medians = [-12.1,-2.9];
const type2Categories = ['HV','SjD'];
const type2Ticks = [-5,0,5,10,15];
const type2Hv = [-0.14,-3.08,-3.62,-3.08,-3.23,-3.47,-3.08,-3.99,-4.4,-4.34,-4.73];
const type2Sjd = [13.05,11.65,10.87,7.65,8.02,7.4,5.76,2.0,1.77,1.15,-0.37,-1.34,-1.34,-2.2,-2.08,-2.22,-2.82,-3.52,-2.75,-3.14,-3.78,-3.7,-3.97];
const type2Medians = [-3.47,-1.32];

/* ---------- correlations ---------- */
const corrYTicks = [0,5,10,15];
const corr1XTicks = [0,25,50,75,100];
const corr1Sjd = [[13.6,12],[27.9,12],[43.6,12],[0.2,9],[-8.4,7],[2.8,7],[3.2,5],[-4.4,4],[11.3,4],[-16.4,3],[-9.9,3],[-9,3],[-7.9,3],[8.6,3],[8.8,3],[26.2,3],[81.8,3],[-13.6,2],[-11.1,2],[-8.2,2],[-7.9,2],[-14.2,1],[-8.9,1],[-5.6,1],[-3.3,1],[-2.7,1],[0.8,1],[1.4,0]];
const corr1Hv = [[-9.5,2],[-14,0],[-13.4,0],[-12.6,0],[-11.9,0],[-10.2,0],[-9.5,0],[-8.6,0]];
const corr1Fit = [[-16.6,1.57],[81.9,10.33]];
const corr2XTicks = [-5,0,5,10,15,20];
const corr2Sjd = [[15.84,12],[13.54,12],[8.76,12],[7,9],[2.44,7],[10.14,7],[-2.85,6],[-1.99,5],[-2.34,4],[0.96,4],[10.57,4],[-4.5,3],[-4.16,3],[-3.52,3],[-1.22,3],[-0.14,3],[7.94,3],[-4.4,2],[-3.01,2],[-2.51,2],[-1.91,2],[1.77,1],[-3.95,1]];
const corr2Hv = [[-3.73,2],[-3.66,1],[-5.5,0],[-5.17,0],[-4.62,0],[-4.02,0],[-3.78,0],[-3.61,0],[0,0]];
const corr2Fit = [[-5.5,0.63],[15.84,11.07]];

/* ---------- helpers ---------- */
const NS = 'http://www.w3.org/2000/svg';
function mk(tag, attrs, parent, txt) {
  const e = document.createElementNS(NS, tag);
  for (const k in attrs) e.setAttribute(k, attrs[k]);
  if (txt !== undefined) e.textContent = txt;
  (parent || document.getElementById('fig')).appendChild(e);
  return e;
}
function linear(d0, d1, r0, r1) { return v => r0 + (v - d0) * (r1 - r0) / (d1 - d0); }
function lerp(a, b, t) { return a.map((v, i) => Math.round(v + (b[i] - v) * t)); }
function rgb(c) { return 'rgb(' + c.join(',') + ')'; }

/* ---------- panel A decoration ---------- */
(function () {
  const tubes = document.getElementById('tubes');
  [[517, '#a8d8ee', true], [664, '#f6b9ba', false]].forEach(function (t) {
    const x = t[0];
    const cap = mk('path', {d: 'M' + (x - 34) + ' 258 ' + (x - 25) + ' 255 ' + (x - 2) + ' 335 H' + (x - 8) + 'Z', fill: '#e6eef0', stroke: '#9aa', class: 'ns'}, tubes);
    
    
    const body = mk('path', {d: 'M' + x + ' 340H' + (x + 30) + 'V490L' + (x + 16) + ' 598H' + (x + 14) + 'L' + x + ' 490Z', fill: '#e9eff1', stroke: '#9aa', class: 'ns'}, tubes);
    
    
    const liquid = mk('path', {d: 'M' + x + ' 465H' + (x + 30) + 'V490L' + (x + 16) + ' 596H' + (x + 14) + 'L' + x + ' 490Z', fill: t[1]}, tubes);
    
    
    const rim = mk('rect', {x: x - 2, y: 333, width: 34, height: 12, fill: '#d4dcdf'}, tubes);
    
    
    if (t[2]) {
      const bit = mk('ellipse', {cx: x + 14, cy: 493, rx: 7, ry: 16, fill: '#f2a3a8'}, tubes);
      
      
    }
  });
  const Y = '#ffe000', O = '#c8b82a', A = '#e8c010', B = '#0a34c8', M = '#2b55b8', G = '#808a58', S = '#7a8a70', L = '#4a6aa0';
  const grid = [[Y, O, Y, A, B, M], [Y, O, Y, G, B, B], [O, O, O, B, G, A], [S, B, M, Y, Y, Y], [L, B, M, O, O, O], [B, L, S, O, Y, Y]];
  const mh = document.getElementById('miniHeat');
  const cw = (1087 - 996) / 6, ch = (553 - 257) / 6;
  grid.forEach(function (row, r) {
    row.forEach(function (c, i) {
      const cell = mk('rect', {x: 996 + i * cw, y: 257 + r * ch, width: cw + 0.3, height: ch + 0.3, fill: c}, mh);
      
      
    });
  });
  const ml = document.getElementById('miniLabels');
  for (let i = 0; i < 6; i++) {
    const g = mk('text', {x: 1075, y: 98 + i * 16.6, 'font-size': 5, style: 'fill:#555'}, ml, 'Gene ' + (i + 1));
    
    
    const xx = 988 + i * 15.2;
    const s = mk('text', {transform: 'translate(' + xx + ',186) rotate(90)', 'font-size': 5, style: 'fill:#555'}, ml, 'Sample ' + (i + 1));
    
    
  }
})();

/* ---------- panel B heatmap ---------- */
(function () {
  const g = document.getElementById('heatmap');
  const cols = document.getElementById('heatCols');
  const left = 91, top = 376, W = 442, H = 559;
  const cw = W / heatmapColumns.length, rh = H / heatmapValues.length;
  const BLUE = [32, 60, 250], GREY = [192, 184, 190], RED = [255, 0, 0];
  function color(v) { return rgb(v <= 5 ? lerp(BLUE, GREY, v / 5) : lerp(GREY, RED, (v - 5) / 4)); }
  heatmapValues.forEach(function (row, r) {
    row.forEach(function (v, c) {
      const cell = mk('rect', {x: left + c * cw, y: top + r * rh, width: cw + 0.4, height: rh + 0.4, fill: color(v)}, g);
      
      
    });
  });
  heatmapColumns.forEach(function (n, c) {
    const x = left + (c + 0.5) * cw;
    const t = mk('text', {transform: 'translate(' + x + ',940) rotate(90)', 'font-size': 10.8, 'dominant-baseline': 'central', style: 'fill:#222'}, cols, n);
    
    
  });
})();

/* ---------- panel C volcano ---------- */
(function () {
  const g = document.getElementById('volcano');
  const sx = linear(0, 1, 817, 844.5);
  const sy = linear(0, 1, 932.6, 833.2);
  function area(levels, leftE, rightE, fill, name) {
    const pts = [];
    levels.forEach(function (y, i) { pts.push(sx(leftE[i]).toFixed(1) + ',' + sy(y).toFixed(1)); });
    for (let i = levels.length - 1; i >= 0; i--) pts.push(sx(rightE[i]).toFixed(1) + ',' + sy(levels[i]).toFixed(1));
    const p = mk('polygon', {points: pts.join(' '), fill: fill}, g);
    
    
  }
  area(denseLevels, blackLeftOuter, blackLeftInner, '#000', 'dense-ns-left');
  area(denseLevels, blackRightInner, blackRightOuter, '#000', 'dense-ns-right');
  area(redDenseLevels, redDenseLeft, redDenseRight, '#ee3048', 'dense-up-region');
  area(blueDenseLevels, blueDenseLeft, blueDenseRight, '#0f5fd6', 'dense-down-region');
  function dots(list, fill, name, r) {
    list.forEach(function (d) {
      const c = mk('circle', {cx: sx(d[0]), cy: sy(d[1]), r: r, fill: fill}, g);
      
      
    });
  }
  dots(blackPoints, '#000', 'not-significant-gene', 2.8);
  dots(downPoints, '#0f5fd6', 'down-regulated-gene', 2.8);
  dots(upPoints, '#ee3048', 'up-regulated-gene', 3);
  volcanoYTicks.forEach(function (v) {
    const tick = mk('line', {x1: 646, x2: 650.7, y1: sy(v), y2: sy(v), stroke: '#222', 'stroke-width': 1}, g);
    
    
    const t = mk('text', {x: 643, y: sy(v), 'font-size': 12.5, 'text-anchor': 'end', 'dominant-baseline': 'central', style: 'fill:#222'}, g, String(v));
    
    
  });
  volcanoXTicks.forEach(function (v, i) {
    const tick = mk('line', {x1: sx(v), x2: sx(v), y1: 936.5, y2: 941, stroke: '#222', 'stroke-width': 1}, g);
    
    
    const t = mk('text', {x: sx(v), y: 948, 'font-size': 12.5, 'text-anchor': 'middle', 'dominant-baseline': 'central', style: 'fill:#222'}, g, volcanoXTickLabels[i]);
    
    
  });
})();

/* ---------- panel D pathways ---------- */
(function () {
  const g = document.getElementById('pathways');
  const sx = linear(1, 3, 1305.3, 1530);
  const rowY = i => 370.6 + i * (904.7 - 370.6) / (pathwayNames.length - 1);
  function pColor(p) {
    const R = [255, 0, 0], Mid = [204, 79, 144], Bl = [68, 114, 200];
    if (p <= 0.025) return rgb(lerp(R, Mid, (p - 0.01) / 0.015));
    return rgb(lerp(Mid, Bl, (p - 0.025) / 0.025));
  }
  pathwayNames.forEach(function (n, i) {
    const b = mk('rect', {x: sx(1), y: rowY(i) - 5.5, width: sx(pathwayScores[i]) - sx(1), height: 11, fill: pColor(pathwayPValues[i])}, g);
    
    
    const t = mk('text', {x: i === 8 ? 1302 : 1294.3, y: rowY(i), 'font-size': 12.4, 'text-anchor': 'end', 'dominant-baseline': 'central'}, g, n);
    
    
  });
  const ax = mk('path', {d: 'M1305.3 360.5V915H1530', fill: 'none', stroke: '#222', 'stroke-width': 1.5}, g);
  
  
  pathwayTicks.forEach(function (v) {
    const t = mk('text', {x: sx(v), y: 928.7, 'font-size': 9.5, 'text-anchor': 'middle', 'dominant-baseline': 'central'}, g, String(v));
    
    
  });
})();

/* ---------- panels E + G dot plots ---------- */
function swarm(values, sy, spacing, th, half) {
  const placed = [];
  return values.map(function (v, idx) {
    const y = sy(v);
    const sign = idx % 2 ? -1 : 1;
    if (half && values.every(function (w, j) { return j === idx || Math.abs(sy(w) - y) >= th; })) {
      placed.push([0, y]);
      return 0;
    }
    for (let k = 0; k < 12; k++) {
      const slot = half ? k + 0.5 : k;
      const opts = (!half && k === 0) ? [0] : [sign * slot, -sign * slot];
      for (let o = 0; o < opts.length; o++) {
        const px = opts[o] * spacing;
        if (placed.every(function (q) { return Math.hypot(q[0] - px, q[1] - y) >= th; })) {
          placed.push([px, y]);
          return px;
        }
      }
    }
    return 0;
  });
}
function dotPlot(cfg) {
  const g = document.getElementById(cfg.id);
  const sy = cfg.sy;
  const catX = i => cfg.x0 + i * cfg.step;
  const dotted = mk('line', {x1: cfg.dotStart, x2: cfg.xEnd, y1: sy(0), y2: sy(0), stroke: '#000', 'stroke-width': 3, 'stroke-linecap': 'round', 'stroke-dasharray': '0 6.9'}, g);
  
  
  [cfg.hv, cfg.sjd].forEach(function (vals, c) {
    const offs = swarm(vals, sy, cfg.spacing[c], cfg.th[c], cfg.half);
    vals.forEach(function (v, i) {
      const d = mk('circle', {cx: catX(c) + offs[i], cy: sy(v), r: 5.4, fill: c === 0 ? '#000' : '#ff2a0a'}, g);
      
      
    });
    const m = mk('line', {x1: catX(c) - 34, x2: catX(c) + 34, y1: sy(cfg.medians[c]), y2: sy(cfg.medians[c]), stroke: '#000', 'stroke-width': 3}, g);
    
    
    const tick = mk('line', {x1: catX(c), x2: catX(c), y1: cfg.bottom, y2: cfg.bottom + 15, stroke: '#000', 'stroke-width': 3}, g);
    
    
    const t = mk('text', {x: catX(c), y: cfg.labelY, 'font-size': 25, 'font-weight': 'bold', 'text-anchor': 'middle', 'dominant-baseline': 'central'}, g, cfg.cats[c]);
    
    
  });
  const ax = mk('path', {d: 'M' + cfg.axisX + ' ' + sy(cfg.ticks[cfg.ticks.length - 1]) + 'V' + cfg.bottom + 'H' + cfg.xEnd, fill: 'none', stroke: '#000', 'stroke-width': 3}, g);
  
  
  cfg.ticks.forEach(function (v) {
    const tick = mk('line', {x1: cfg.axisX - 15, x2: cfg.axisX, y1: sy(v), y2: sy(v), stroke: '#000', 'stroke-width': 3}, g);
    
    
    const t = mk('text', {x: cfg.axisX - 21.5, y: sy(v), 'font-size': 25, 'font-weight': 'bold', 'text-anchor': 'end', 'dominant-baseline': 'central'}, g, String(v));
    
    
  });
}
dotPlot({id: 'panelE', sy: linear(0, 100, 1399.3, 1101.7), x0: 262.3, step: 102.4, dotStart: 200, xEnd: 432.7, bottom: 1459, labelY: 1495, axisX: 194.7, hv: type1Hv, sjd: type1Sjd, medians: type1Medians, ticks: type1Ticks, cats: type1Categories, spacing: [9.5, 14.3], th: [5.9, 11], half: false});
dotPlot({id: 'panelG', sy: linear(0, 15, 1947.3, 1676.7), x0: 276.7, step: 103.3, dotStart: 215, xEnd: 448.3, bottom: 2037, labelY: 2074.3, axisX: 209.3, hv: type2Hv, sjd: type2Sjd, medians: type2Medians, ticks: type2Ticks, cats: type2Categories, spacing: [11.5, 19.3], th: [11, 11], half: true});

/* ---------- panels F + H correlations ---------- */
function corrPlot(cfg) {
  const g = document.getElementById(cfg.id);
  const sx = cfg.sx, sy = cfg.sy;
  const xs = cfg.xTicks;
  const xEnd = sx(xs[xs.length - 1]);
  const ax = mk('path', {d: 'M' + cfg.axisX + ' ' + sy(15) + 'V' + sy(0) + 'H' + xEnd, fill: 'none', stroke: '#000', 'stroke-width': 3}, g);
  
  
  corrYTicks.forEach(function (v) {
    const tick = mk('line', {x1: cfg.axisX - 15, x2: cfg.axisX, y1: sy(v), y2: sy(v), stroke: '#000', 'stroke-width': 3}, g);
    
    
    const t = mk('text', {x: cfg.axisX - 22, y: sy(v), 'font-size': 25, 'font-weight': 'bold', 'text-anchor': 'end', 'dominant-baseline': 'central'}, g, String(v));
    
    
  });
  xs.forEach(function (v) {
    const tick = mk('line', {x1: sx(v), x2: sx(v), y1: sy(0), y2: sy(0) + 15.5, stroke: '#000', 'stroke-width': 3}, g);
    
    
    const t = mk('text', {x: sx(v), y: cfg.xLabelY, 'font-size': 25, 'font-weight': 'bold', 'text-anchor': 'middle', 'dominant-baseline': 'central'}, g, String(v));
    
    
  });
  cfg.hv.forEach(function (d) {
    const c = mk('circle', {cx: sx(d[0]), cy: sy(d[1]), r: 7, fill: '#000'}, g);
    
    
  });
  cfg.sjd.forEach(function (d) {
    const c = mk('circle', {cx: sx(d[0]), cy: sy(d[1]), r: 7, fill: '#ff2a0a'}, g);
    
    
  });
  const fit = mk('line', {x1: sx(cfg.fit[0][0]), y1: sy(cfg.fit[0][1]), x2: sx(cfg.fit[1][0]), y2: sy(cfg.fit[1][1]), stroke: '#000', 'stroke-width': 2}, g);
  
  
  [['HV', '#000', cfg.legY[0], 'legend-hv'], ['SjD', '#ff0000', cfg.legY[1], 'legend-sjd']].forEach(function (l) {
    const c = mk('circle', {cx: 1233, cy: l[2], r: 13, fill: l[1]}, g);
    
    
    const t = mk('text', {x: 1268, y: l[2] - 1, 'font-size': 32, 'dominant-baseline': 'central'}, g, l[0]);
    
    
  });
}
corrPlot({id: 'panelF', sx: linear(0, 100, 776.3, 1229.4), sy: linear(0, 15, 1462.9, 1101), axisX: 686, xTicks: corr1XTicks, xLabelY: 1500, hv: corr1Hv, sjd: corr1Sjd, fit: corr1Fit, legY: [1110, 1158]});
corrPlot({id: 'panelH', sx: linear(0, 20, 819.2, 1245.2), sy: linear(0, 15, 2003, 1634.2), axisX: 692.1, xTicks: corr2XTicks, xLabelY: 2040.5, hv: corr2Hv, sjd: corr2Sjd, fit: corr2Fit, legY: [1648, 1696.7]});
</script>
</body>
</html>
